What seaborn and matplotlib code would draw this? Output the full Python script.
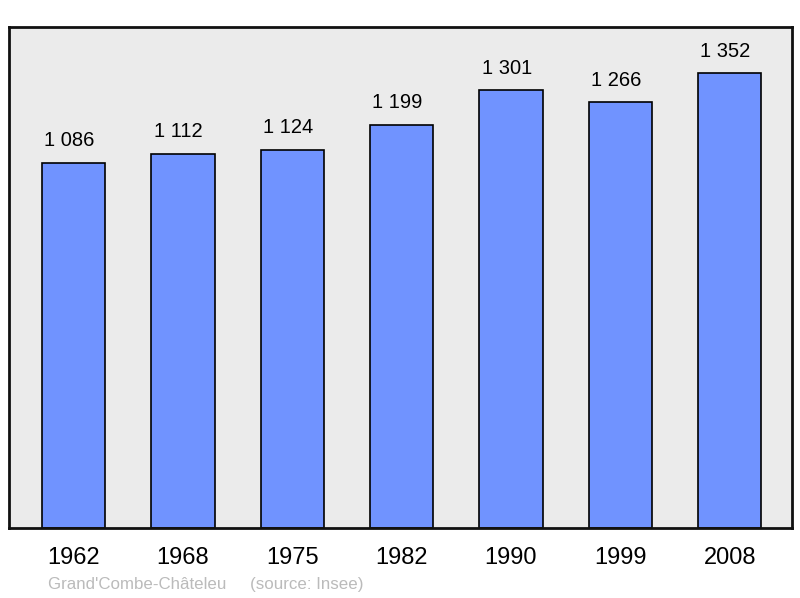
import matplotlib
matplotlib.use('Agg')
import matplotlib.pyplot as plt
import seaborn as sns

years = ['1962', '1968', '1975', '1982', '1990', '1999', '2008']
population = [1086, 1112, 1124, 1199, 1301, 1266, 1352]
labels = ['1 086', '1 112', '1 124', '1 199', '1 301', '1 266', '1 352']

sns.set_theme(style='white')
plt.rcParams['font.family'] = ['Liberation Sans', 'DejaVu Sans']

fig = plt.figure(figsize=(8, 5.98), dpi=100)
ax = fig.add_axes([9 / 800, 70 / 598, 783 / 800, 501 / 598])
ax.set_facecolor('#ebebeb')

sns.barplot(x=years, y=population, color='#7093ff', saturation=1, width=0.58,
            edgecolor='black', linewidth=1.2, ax=ax)

for i, (v, t) in enumerate(zip(population, labels)):
    ax.annotate(t, (i, v), xytext=(-3, 9), textcoords='offset points',
                ha='center', va='bottom', fontsize=14.5, color='black')

ax.set_ylim(0, 1489)
ax.set_xlim(-0.59, 6.57)
ax.set_yticks([])
ax.set_xlabel('')
ax.set_ylabel('')
ax.tick_params(axis='x', length=0, pad=14, labelsize=17, labelcolor='black')
for s in ax.spines.values():
    s.set_color('#111111')
    s.set_linewidth(2)

fig.text(48 / 800, 1 - 585 / 598, "Grand'Combe-Châteleu     (source: Insee)",
         fontsize=12.2, color='#bbbbbb', va='center', ha='left')

fig.savefig('out.png', dpi=100)
